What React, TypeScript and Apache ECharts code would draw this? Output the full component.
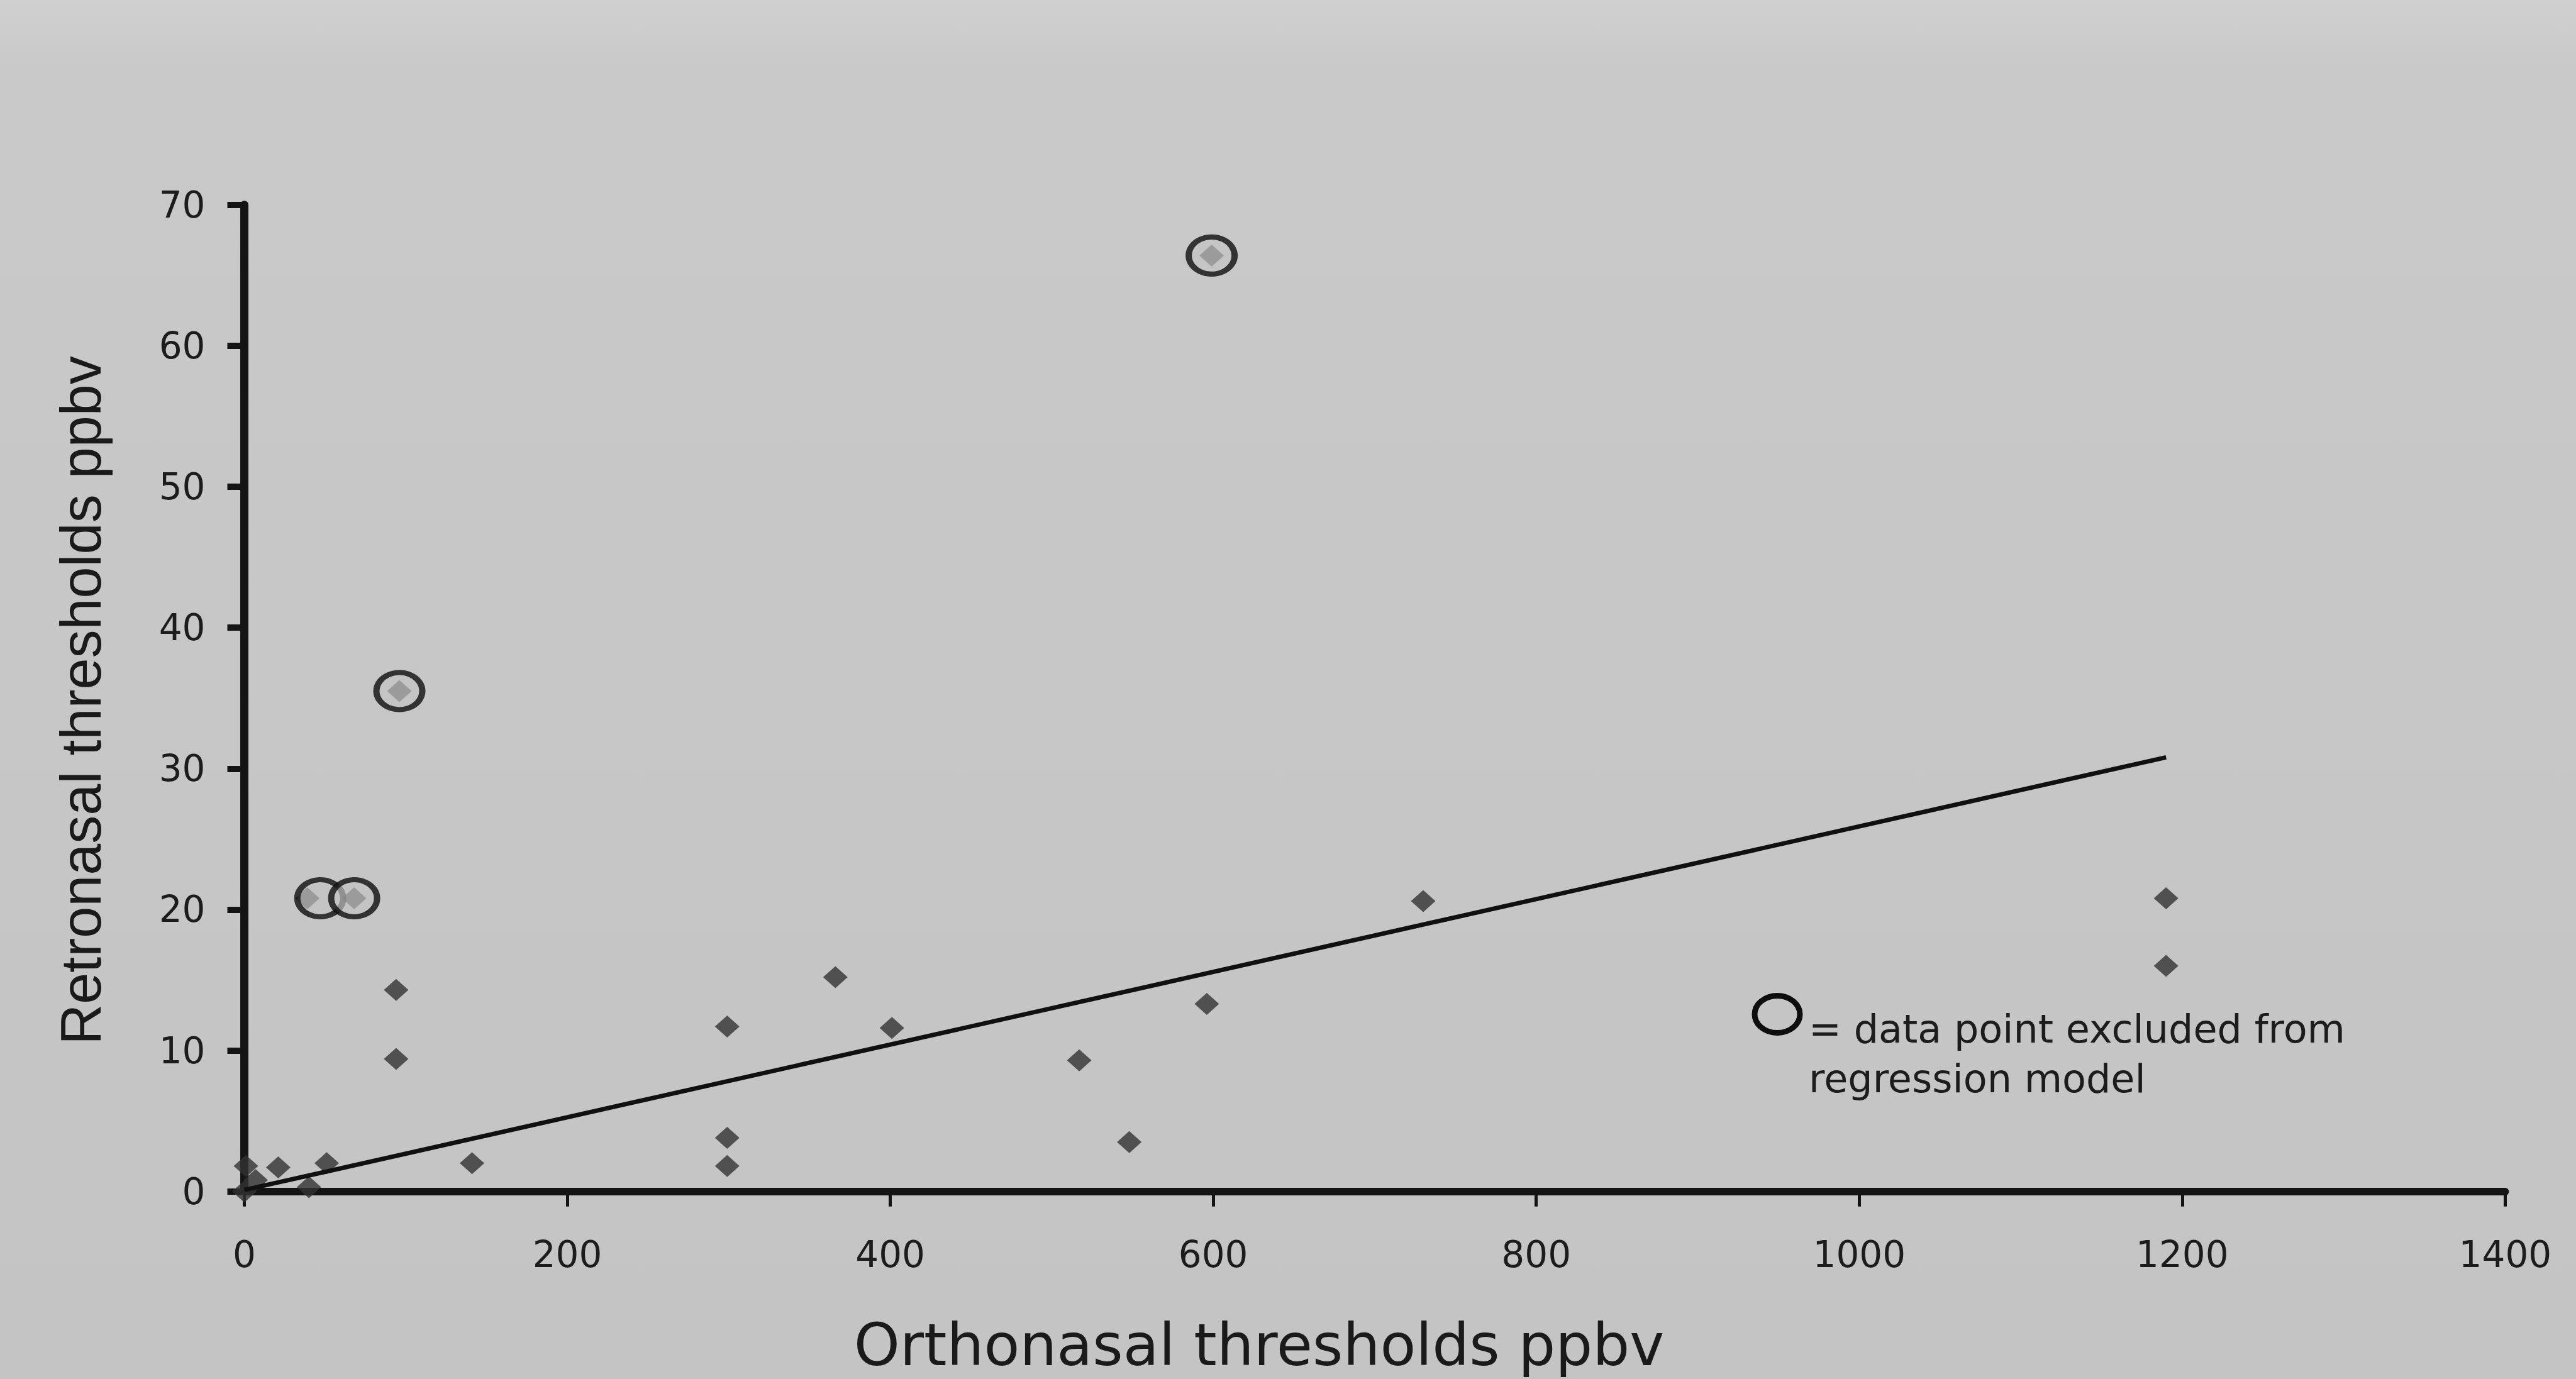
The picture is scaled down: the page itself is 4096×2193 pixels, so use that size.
import React, { useEffect, useRef } from "react";
import * as echarts from "echarts";

// Orthonasal (x) and retronasal (y) thresholds, ppbv — points kept in the regression
const includedX = [0, 1, 7, 21, 40, 51, 141, 94, 94, 299, 299, 299, 366, 401, 517, 548, 596, 730, 1190, 1190];
const includedY = [0, 1.8, 0.8, 1.7, 0.3, 2.0, 2.0, 14.3, 9.4, 11.7, 3.8, 1.8, 15.2, 11.6, 9.3, 3.5, 13.3, 20.6, 20.8, 16.0];

// Points excluded from the regression (diamond) and the circles drawn around them
const excludedX = [39, 68, 96, 599];
const excludedY = [20.8, 20.8, 35.5, 66.4];
const circleX = [47, 68, 96, 599];
const circleY = [20.8, 20.8, 35.5, 66.4];

// Regression line end points
const regressionX = [0, 1190];
const regressionY = [0.1, 30.8];

const xAxisTitle = "Orthonasal thresholds ppbv";
const yAxisTitle = "Retronasal thresholds ppbv";
const legendLines = ["= data point excluded from", "regression model"];

const INK = "#141414";

export default function App() {
  const ref = useRef<HTMLDivElement>(null);

  useEffect(() => {
    if (!ref.current) return;
    const chart = echarts.init(ref.current, undefined, { renderer: "svg" });

    const diamonds = includedX
      .map((x, i) => [x, includedY[i]])
      .concat(excludedX.map((x, i) => [x, excludedY[i]]));
    const circles = circleX.map((x, i) => [x, circleY[i]]);
    const regression = regressionX.map((x, i) => [x, regressionY[i]]);

    chart.setOption({
      animation: false,
      backgroundColor: {
        type: "linear",
        x: 0,
        y: 0,
        x2: 0,
        y2: 1,
        colorStops: [
          { offset: 0, color: "#d0d0d0" },
          { offset: 0.05, color: "#c9c9c9" },
          { offset: 1, color: "#c4c4c4" },
        ],
      },
      grid: { left: 388.5, right: 112.6, top: 325.7, bottom: 298.3 },
      xAxis: {
        type: "value",
        min: 0,
        max: 1400,
        interval: 200,
        splitLine: { show: false },
        axisLine: { show: true, onZero: false, lineStyle: { color: INK, width: 12 } },
        axisTick: { show: true, inside: false, length: 24, lineStyle: { color: INK, width: 5 } },
        axisLabel: {
          margin: 71,
          fontFamily: "DejaVu Sans",
          fontSize: 58,
          color: "#1c1c1c",
          formatter: (v: number) => String(v),
        },
      },
      yAxis: {
        type: "value",
        min: 0,
        max: 70,
        interval: 10,
        splitLine: { show: false },
        axisLine: { show: true, onZero: false, lineStyle: { color: INK, width: 13 } },
        axisTick: { show: true, inside: false, length: 27, lineStyle: { color: INK, width: 10 } },
        axisLabel: {
          margin: 62,
          fontFamily: "DejaVu Sans",
          fontSize: 58,
          color: "#1c1c1c",
          formatter: (v: number) => String(v),
        },
      },
      series: [
        {
          type: "scatter",
          data: diamonds,
          symbol: "diamond",
          symbolSize: [39, 35],
          itemStyle: { color: "#323232" },
          z: 2,
        },
        {
          type: "line",
          data: regression,
          showSymbol: false,
          symbol: "none",
          lineStyle: { color: "#101010", width: 7 },
          z: 3,
        },
        {
          type: "scatter",
          data: circles,
          symbol: "circle",
          symbolSize: [73, 59],
          itemStyle: {
            color: "rgba(196,196,196,0.82)",
            borderColor: "#0e0e0e",
            borderWidth: 9,
          },
          z: 4,
        },
      ],
      graphic: [
        {
          type: "text",
          x: 129,
          y: 1114,
          rotation: Math.PI / 2,
          style: {
            text: yAxisTitle,
            font: '90px "Liberation Sans"',
            fill: "#1a1a1a",
            align: "center",
            verticalAlign: "middle",
          },
        },
        {
          type: "text",
          x: 2002,
          y: 2139,
          style: {
            text: xAxisTitle,
            font: '93px "DejaVu Sans"',
            fill: "#1a1a1a",
            align: "center",
            verticalAlign: "middle",
          },
        },
        {
          type: "ellipse",
          shape: { cx: 2826, cy: 1613, rx: 36, ry: 29.5 },
          style: { fill: "none", stroke: "#0e0e0e", lineWidth: 9 },
        },
        {
          type: "text",
          x: 2876,
          y: 1636,
          style: {
            text: legendLines[0],
            font: '62px "DejaVu Sans"',
            fill: "#1c1c1c",
            align: "left",
            verticalAlign: "middle",
          },
        },
        {
          type: "text",
          x: 2876,
          y: 1715,
          style: {
            text: legendLines[1],
            font: '62px "DejaVu Sans"',
            fill: "#1c1c1c",
            align: "left",
            verticalAlign: "middle",
          },
        },
      ],
    });

    return () => chart.dispose();
  }, []);

  return (
    <div
      ref={ref}
      style={{ position: "fixed", left: 0, top: 0, width: 4096, height: 2193 }}
    />
  );
}
